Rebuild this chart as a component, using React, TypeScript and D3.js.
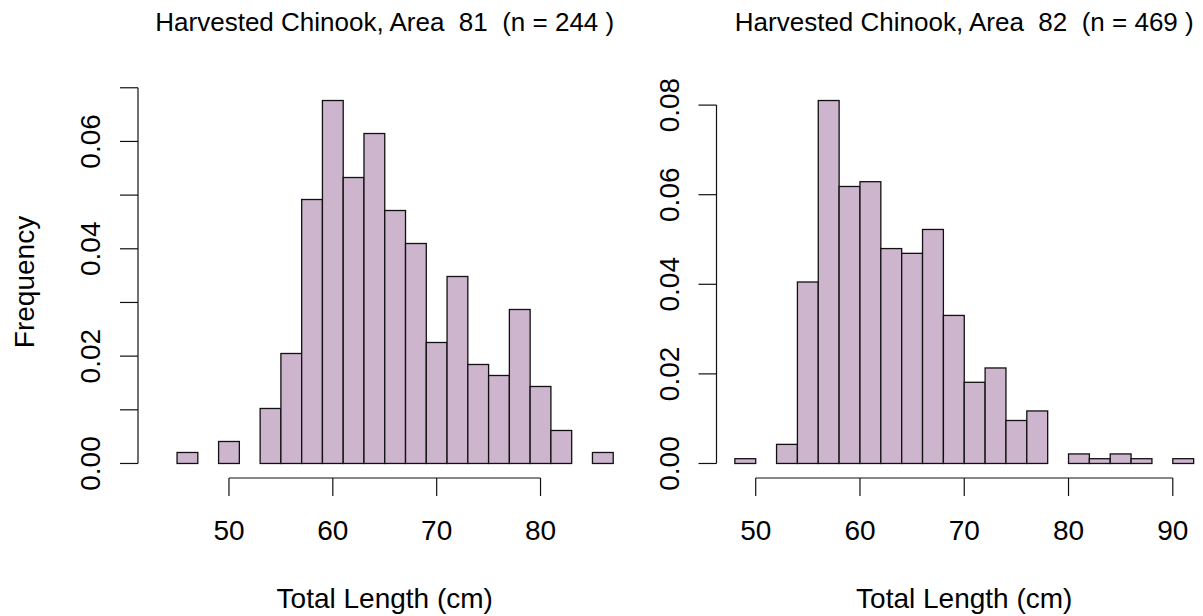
import React from "react";
import * as d3 from "d3";

// ---- Data ----
// Area 81: bins of 2 cm starting at 43 cm
const area81Start = 43;
const area81Counts = [0, 1, 0, 2, 0, 5, 10, 24, 33, 26, 30, 23, 20, 11, 17, 9, 8, 14, 7, 3, 0, 1];
const area81N = 244;
const area81XTicks = [50, 60, 70, 80];
const area81YTicks = [0, 0.01, 0.02, 0.03, 0.04, 0.05, 0.06, 0.07];
const area81YLabels = [0, 0.02, 0.04, 0.06];

// Area 82: bins of 2 cm starting at 48 cm
const area82Start = 48;
const area82Counts = [1, 0, 4, 38, 76, 58, 59, 45, 44, 49, 31, 17, 20, 9, 11, 0, 2, 1, 2, 1, 0, 1];
const area82N = 469;
const area82XTicks = [50, 60, 70, 80, 90];
const area82YTicks = [0, 0.02, 0.04, 0.06, 0.08];
const area82YLabels = [0, 0.02, 0.04, 0.06, 0.08];

const binWidth = 2;
const titles = [
  "Harvested Chinook, Area  81  (n = 244 )",
  "Harvested Chinook, Area  82  (n = 469 )",
];
const xLabel = "Total Length (cm)";
const yLabel = "Frequency";

const FILL = "#CDB5CD";
const FONT = "'Liberation Sans', Arial, Helvetica, sans-serif";

type PanelProps = {
  start: number;
  counts: number[];
  n: number;
  xTicks: number[];
  yTicks: number[];
  yLabels: number[];
  title: string;
  left: number;
  right: number;
  showYLabel: boolean;
};

function Panel({ start, counts, n, xTicks, yTicks, yLabels, title, left, right, showYLabel }: PanelProps) {
  const top = 86;
  const bottom = 478;
  const bins = counts.map((c, i) => ({
    x0: start + i * binWidth,
    x1: start + (i + 1) * binWidth,
    d: c / (n * binWidth),
  }));
  const xmin = start;
  const xmax = start + counts.length * binWidth;
  const xext = (xmax - xmin) * 0.04;
  const ymax = d3.max(bins, (b) => b.d) as number;
  const yext = ymax * 0.04;
  const x = d3.scaleLinear().domain([xmin - xext, xmax + xext]).range([left, right]);
  const y = d3.scaleLinear().domain([-yext, ymax + yext]).range([bottom, top]);
  const tickLen = 18;
  const cx = (left + right) / 2;
  const cy = (top + bottom) / 2;
  const fmt = d3.format(".2f");
  return (
    <g>
      <text x={cx} y={31} textAnchor="middle" fontSize={26} style={{ whiteSpace: "pre" }} fontFamily={FONT}>
        {title}
      </text>
      {bins.map((b, i) => (
        <rect
          key={i}
          x={x(b.x0)}
          y={y(b.d)}
          width={x(b.x1) - x(b.x0)}
          height={y(0) - y(b.d)}
          fill={FILL}
          stroke="#111"
          strokeWidth={1.3}
        />
      ))}
      {/* x axis */}
      <line
        x1={x(xTicks[0])}
        x2={x(xTicks[xTicks.length - 1])}
        y1={bottom}
        y2={bottom}
        stroke="#111"
        strokeWidth={1.2}
      />
      {xTicks.map((t) => (
        <g key={t}>
          <line x1={x(t)} x2={x(t)} y1={bottom} y2={bottom + tickLen} stroke="#111" strokeWidth={1.2} />
          <text x={x(t)} y={540} textAnchor="middle" fontSize={28} fontFamily={FONT}>
            {t}
          </text>
        </g>
      ))}
      <text x={cx} y={608} textAnchor="middle" fontSize={28} fontFamily={FONT}>
        {xLabel}
      </text>
      {/* y axis */}
      <line
        x1={left}
        x2={left}
        y1={y(yTicks[0])}
        y2={y(yTicks[yTicks.length - 1])}
        stroke="#111"
        strokeWidth={1.2}
      />
      {yTicks.map((t) => (
        <line key={t} x1={left - tickLen} x2={left} y1={y(t)} y2={y(t)} stroke="#111" strokeWidth={1.2} />
      ))}
      {yLabels.map((t) => (
        <text
          key={t}
          transform={`translate(${left - 38},${y(t)}) rotate(-90)`}
          textAnchor="middle"
          fontSize={28}
          fontFamily={FONT}
        >
          {fmt(t)}
        </text>
      ))}
      {showYLabel && (
        <text
          transform={`translate(${34},${cy}) rotate(-90)`}
          textAnchor="middle"
          fontSize={28}
          fontFamily={FONT}
        >
          {yLabel}
        </text>
      )}
    </g>
  );
}

export default function App() {
  return (
    <svg
      width={1203}
      height={616}
      style={{ position: "absolute", left: 0, top: 0, background: "#fff" }}
    >
      <rect x={0} y={0} width={1203} height={616} fill="#fff" />
      <Panel
        start={area81Start}
        counts={area81Counts}
        n={area81N}
        xTicks={area81XTicks}
        yTicks={area81YTicks}
        yLabels={area81YLabels}
        title={titles[0]}
        left={138}
        right={631.5}
        showYLabel={true}
      />
      <Panel
        start={area82Start}
        counts={area82Counts}
        n={area82N}
        xTicks={area82XTicks}
        yTicks={area82YTicks}
        yLabels={area82YLabels}
        title={titles[1]}
        left={716.5}
        right={1212}
        showYLabel={false}
      />
    </svg>
  );
}
